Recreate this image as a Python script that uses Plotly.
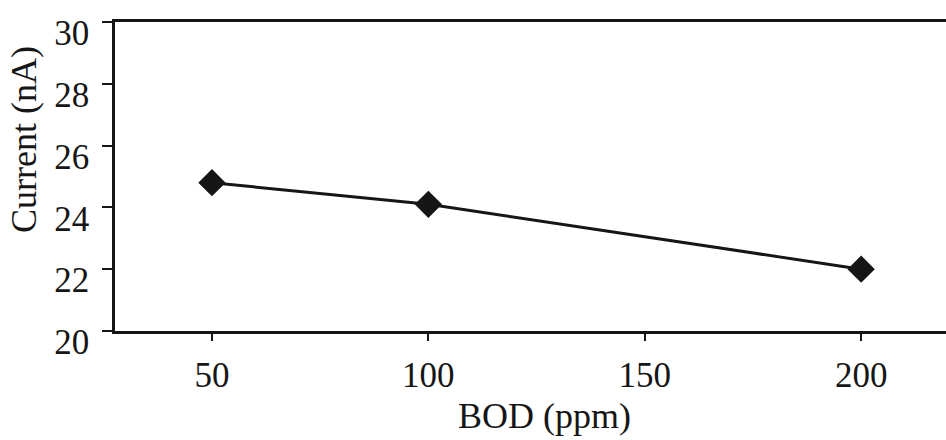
import plotly.graph_objects as go

bod_ppm = [50, 100, 200]
current_na = [24.8, 24.1, 22.0]
x_ticks = [50, 100, 150, 200]
y_ticks = [20, 22, 24, 26, 28, 30]

FONT = "Liberation Serif"
INK = "#161616"

fig = go.Figure()
fig.add_trace(go.Scatter(
    x=bod_ppm, y=current_na, mode="lines+markers",
    line=dict(color=INK, width=3),
    marker=dict(symbol="diamond", size=21, color=INK),
    showlegend=False, cliponaxis=False,
))

# Figure is a bit wider than the window so the chart runs off the right edge
fig.update_layout(
    width=962, height=440,
    margin=dict(l=115, r=0, t=22, b=109),
    paper_bgcolor="white", plot_bgcolor="white",
    font=dict(family=FONT, color=INK, size=35),
    xaxis=dict(
        range=[27.6, 223.3], tickvals=x_ticks, ticks="outside", ticklen=7,
        tickwidth=2, tickcolor=INK, showline=True, linecolor=INK, linewidth=2.5,
        mirror=True, showgrid=False, zeroline=False, ticklabelstandoff=4,
        tickfont=dict(size=35),
    ),
    yaxis=dict(
        range=[20, 30], tickvals=y_ticks, ticks="outside", ticklen=10,
        tickwidth=2, tickcolor=INK, showline=True, linecolor=INK, linewidth=2.5,
        mirror=False, showgrid=False, zeroline=False, ticklabelstandoff=6,
        ticklabelshift=11, ticklabeloverflow="allow",
        tickfont=dict(size=35),
    ),
)

fig.add_annotation(
    text="Current (nA)", xref="paper", yref="paper",
    x=-0.1076, y=0.621, xanchor="center", yanchor="middle",
    textangle=-90, showarrow=False,
    font=dict(size=36, family=FONT, color=INK),
)
fig.add_annotation(
    text="BOD (ppm)", xref="paper", yref="paper",
    x=0.507, y=-0.275, xanchor="center", yanchor="middle",
    showarrow=False,
    font=dict(size=36, family=FONT, color=INK),
)

fig.write_html(
    "out.html",
    config={"displayModeBar": False},
    post_script="document.body.style.margin='0';document.body.style.overflow='hidden';",
)
